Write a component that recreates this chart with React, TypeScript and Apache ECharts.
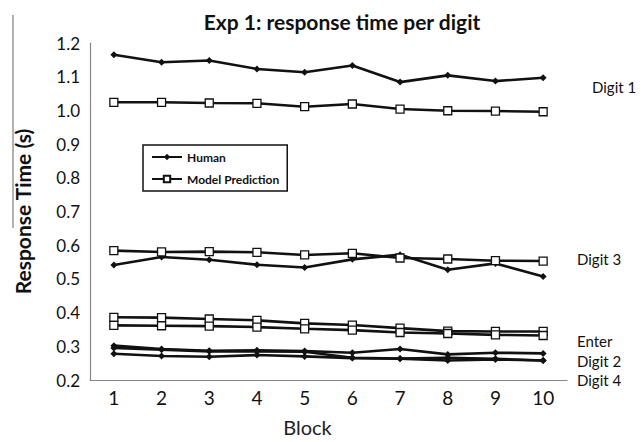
import React, { useEffect, useRef } from "react";
import * as echarts from "echarts";

const blocks = ["1", "2", "3", "4", "5", "6", "7", "8", "9", "10"];

const humanDigit1 = [1.165, 1.143, 1.148, 1.123, 1.113, 1.133, 1.084, 1.104, 1.087, 1.097];
const modelDigit1 = [1.024, 1.024, 1.022, 1.021, 1.011, 1.019, 1.004, 0.999, 0.998, 0.996];
const humanDigit3 = [0.541, 0.565, 0.557, 0.542, 0.534, 0.558, 0.572, 0.527, 0.546, 0.507];
const modelDigit3 = [0.584, 0.58, 0.581, 0.579, 0.571, 0.576, 0.562, 0.559, 0.554, 0.553];
const modelEnter = [0.386, 0.385, 0.381, 0.377, 0.368, 0.363, 0.354, 0.345, 0.344, 0.344];
const modelDigit24 = [0.362, 0.361, 0.36, 0.357, 0.352, 0.348, 0.341, 0.338, 0.334, 0.332];
const humanEnter = [0.302, 0.292, 0.287, 0.288, 0.286, 0.281, 0.292, 0.276, 0.281, 0.279];
const humanDigit2 = [0.295, 0.29, 0.285, 0.285, 0.284, 0.266, 0.264, 0.266, 0.263, 0.258];
const humanDigit4 = [0.278, 0.271, 0.269, 0.274, 0.27, 0.265, 0.263, 0.258, 0.261, 0.258];

const rightLabels = [
  { text: "Digit 1", x: 592, y: 88 },
  { text: "Digit 3", x: 577, y: 260 },
  { text: "Enter", x: 577, y: 342 },
  { text: "Digit 2", x: 577, y: 362 },
  { text: "Digit 4", x: 577, y: 381 },
];

const FONT = "Lato, 'Open Sans', sans-serif";

const humanSeries = (data: number[]) => ({
  name: "Human",
  type: "line",
  data,
  symbol: "diamond",
  symbolSize: 7,
  lineStyle: { color: "#111", width: 2.6 },
  itemStyle: { color: "#111" },
});
const modelSeries = (data: number[]) => ({
  name: "Model Prediction",
  type: "line",
  data,
  symbol: "rect",
  symbolSize: 8,
  lineStyle: { color: "#111", width: 2.6 },
  itemStyle: { color: "#fff", borderColor: "#111", borderWidth: 1.3 },
});

export default function App() {
  const ref = useRef<HTMLDivElement>(null);
  useEffect(() => {
    if (!ref.current) return;
    const chart = echarts.init(ref.current, undefined, { renderer: "svg" });
    chart.setOption({
      animation: false,
      backgroundColor: "#fff",
      textStyle: { fontFamily: FONT },
      title: {
        text: "Exp 1: response time per digit",
        left: 337,
        textAlign: "center",
        top: 6,
        textStyle: { fontFamily: FONT, fontSize: 21, fontWeight: "bold", color: "#111" },
      },
      legend: {
        data: ["Human", "Model Prediction"],
        orient: "vertical",
        left: 143,
        top: 145,
        itemWidth: 30,
        itemHeight: 8,
        itemGap: 10,
        padding: [6, 8, 6, 8],
        borderColor: "#111",
        borderWidth: 1.5,
        textStyle: { fontFamily: FONT, fontSize: 12, fontWeight: "bold", color: "#111" },
      },
      grid: { left: 90, right: 74, top: 43, bottom: 56 },
      xAxis: {
        type: "category",
        data: blocks,
        boundaryGap: true,
        name: "Block",
        nameLocation: "middle",
        nameGap: 37,
        nameTextStyle: { fontFamily: FONT, fontSize: 20, color: "#222", padding: [0, 0, 0, -42] },
        axisLine: { lineStyle: { color: "#888", width: 1.2 } },
        axisTick: { show: false },
        axisLabel: { fontFamily: FONT, fontSize: 19, color: "#111", margin: 8 },
        splitLine: { show: false },
      },
      yAxis: {
        type: "value",
        min: 0.2,
        max: 1.2,
        interval: 0.1,
        name: "Response Time (s)",
        nameLocation: "middle",
        nameGap: 57,
        nameRotate: 90,
        nameTextStyle: { fontFamily: FONT, fontSize: 21, fontWeight: "bold", color: "#111" },
        axisLine: { show: true, lineStyle: { color: "#888", width: 1.2 } },
        axisTick: { show: false },
        axisLabel: {
          fontFamily: FONT,
          fontSize: 17,
          color: "#111",
          margin: 10,
          formatter: (v: number) => v.toFixed(1),
        },
        splitLine: { show: false },
      },
      graphic: [
        {
          type: "line",
          shape: { x1: 13, y1: 15, x2: 13, y2: 228 },
          style: { stroke: "#999", lineWidth: 1.5 },
        },
        ...rightLabels.map((l) => ({
          type: "text",
          left: l.x,
          top: l.y - 9,
          style: { text: l.text, fontFamily: FONT, fontSize: 15, fill: "#111" },
        })),
      ],
      series: [
        humanSeries(humanDigit1),
        modelSeries(modelDigit1),
        humanSeries(humanDigit3),
        modelSeries(modelDigit3),
        modelSeries(modelEnter),
        modelSeries(modelDigit24),
        humanSeries(humanEnter),
        humanSeries(humanDigit2),
        humanSeries(humanDigit4),
      ],
    });
    return () => chart.dispose();
  }, []);
  return <div ref={ref} style={{ width: 641, height: 442, position: "absolute", left: 0, top: 0 }} />;
}
